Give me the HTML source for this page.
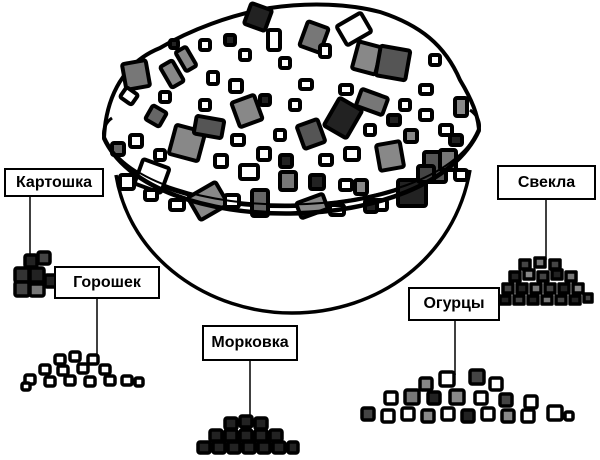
<!DOCTYPE html>
<html><head><meta charset="utf-8"><style>
html,body{margin:0;padding:0;background:#fff;width:600px;height:460px;overflow:hidden}
.l{position:absolute;background:#fff;border:2px solid #000;font:bold 16px "Liberation Sans",sans-serif;display:flex;align-items:center;justify-content:center;box-sizing:border-box}
</style></head><body>
<svg width="600" height="460" style="position:absolute;left:0;top:0" viewBox="0 0 600 460">
<g stroke="#000" stroke-linejoin="round">
<!-- bowl -->
<path d="M116,175 C130,260 210,313 292,313 C378,313 455,258 470,170" fill="#fff" stroke-width="3.5"/>
<!-- mound -->
<path d="M104,138 C106,95 125,62 160,48 C190,30 230,15 270,8 C310,2 350,4 380,12 C420,25 445,45 460,80 C472,100 478,115 479,130 C440,225 150,235 104,138 Z" fill="#fff" stroke-width="4"/>
<g stroke-width="4">
<rect x="124" y="62" width="24" height="26" rx="2" fill="#777" transform="rotate(-10 136 75)"/>
<rect x="165" y="62" width="14" height="24" rx="2" fill="#888" transform="rotate(-30 172 74)"/>
<rect x="180" y="48" width="12" height="22" rx="2" fill="#888" transform="rotate(-30 186 59)"/>
<rect x="247" y="6" width="22" height="22" rx="2" fill="#222" transform="rotate(20 258 17)"/>
<rect x="268" y="30" width="12" height="20" rx="2" fill="#fff"/>
<rect x="303" y="24" width="22" height="26" rx="2" fill="#777" transform="rotate(20 314 37)"/>
<rect x="340" y="18" width="28" height="22" rx="2" fill="#fff" transform="rotate(-30 354 29)"/>
<rect x="355" y="44" width="24" height="28" rx="2" fill="#888" transform="rotate(15 367 58)"/>
<rect x="378" y="48" width="30" height="30" rx="2" fill="#555" transform="rotate(10 393 63)"/>
<rect x="235" y="98" width="24" height="26" rx="2" fill="#888" transform="rotate(-20 247 111)"/>
<rect x="172" y="128" width="30" height="30" rx="2" fill="#888" transform="rotate(15 187 143)"/>
<rect x="195" y="118" width="28" height="18" rx="2" fill="#555" transform="rotate(10 209 127)"/>
<rect x="300" y="122" width="22" height="24" rx="2" fill="#555" transform="rotate(-20 311 134)"/>
<rect x="330" y="102" width="26" height="32" rx="2" fill="#222" transform="rotate(30 343 118)"/>
<rect x="358" y="93" width="28" height="18" rx="2" fill="#777" transform="rotate(20 372 102)"/>
<rect x="378" y="143" width="24" height="26" rx="2" fill="#888" transform="rotate(-10 390 156)"/>
<rect x="424" y="152" width="22" height="30" rx="2" fill="#555"/>
<rect x="398" y="180" width="28" height="26" rx="2" fill="#222"/>
<rect x="192" y="188" width="32" height="26" rx="2" fill="#888" transform="rotate(-30 208 201)"/>
<rect x="252" y="190" width="16" height="26" rx="2" fill="#666"/>
<rect x="298" y="198" width="28" height="16" rx="2" fill="#888" transform="rotate(-20 312 206)"/>
<rect x="138" y="163" width="28" height="26" rx="2" fill="#fff" transform="rotate(20 152 176)"/>
<rect x="148" y="108" width="16" height="16" rx="2" fill="#666" transform="rotate(30 156 116)"/>
<rect x="122" y="90" width="14" height="12" rx="2" fill="#fff" transform="rotate(35 129 96)"/>
<rect x="112" y="143" width="12" height="12" rx="2" fill="#666"/>
<rect x="455" y="98" width="12" height="18" rx="2" fill="#888"/>
<rect x="440" y="150" width="16" height="20" rx="2" fill="#777"/>
<rect x="418" y="166" width="16" height="16" rx="2" fill="#444"/>
<rect x="280" y="172" width="16" height="18" rx="2" fill="#777"/>
<rect x="240" y="165" width="18" height="14" rx="2" fill="#fff"/>
<rect x="120" y="175" width="14" height="14" rx="2" fill="#fff"/>
<rect x="225" y="195" width="14" height="12" rx="2" fill="#fff"/>
<rect x="330" y="205" width="14" height="10" rx="2" fill="#fff"/>
<rect x="355" y="180" width="12" height="14" rx="2" fill="#888"/>
<g fill="#fff">
<rect x="230" y="80" width="12" height="12" rx="2"/><rect x="208" y="72" width="10" height="12" rx="2"/><rect x="280" y="58" width="10" height="10" rx="2"/>
<rect x="300" y="80" width="12" height="9" rx="2"/><rect x="340" y="85" width="12" height="9" rx="2"/><rect x="420" y="85" width="12" height="9" rx="2"/>
<rect x="200" y="100" width="10" height="10" rx="2"/><rect x="232" y="135" width="12" height="10" rx="2"/><rect x="275" y="130" width="10" height="10" rx="2"/>
<rect x="345" y="148" width="14" height="12" rx="2"/><rect x="340" y="180" width="12" height="10" rx="2"/><rect x="170" y="200" width="14" height="10" rx="2"/>
<rect x="130" y="135" width="12" height="12" rx="2"/><rect x="440" y="125" width="12" height="10" rx="2"/><rect x="420" y="110" width="12" height="10" rx="2"/>
<rect x="320" y="45" width="10" height="12" rx="2"/><rect x="200" y="40" width="10" height="10" rx="2"/><rect x="240" y="50" width="10" height="10" rx="2"/>
<rect x="430" y="55" width="10" height="10" rx="2"/><rect x="160" y="92" width="10" height="10" rx="2"/><rect x="290" y="100" width="10" height="10" rx="2"/>
<rect x="320" y="155" width="12" height="10" rx="2"/><rect x="365" y="125" width="10" height="10" rx="2"/><rect x="400" y="100" width="10" height="10" rx="2"/>
<rect x="215" y="155" width="12" height="12" rx="2"/><rect x="258" y="148" width="12" height="12" rx="2"/><rect x="155" y="150" width="10" height="10" rx="2"/>
<rect x="455" y="170" width="12" height="10" rx="2"/><rect x="375" y="200" width="12" height="10" rx="2"/><rect x="145" y="190" width="12" height="10" rx="2"/>
</g>
<g fill="#222">
<rect x="260" y="95" width="10" height="10" rx="2"/><rect x="280" y="155" width="12" height="12" rx="2"/><rect x="310" y="175" width="14" height="14" rx="2"/>
<rect x="365" y="200" width="12" height="12" rx="2"/><rect x="450" y="135" width="12" height="10" rx="2"/><rect x="388" y="115" width="12" height="10" rx="2"/>
<rect x="405" y="130" width="12" height="12" rx="2" fill="#888"/><rect x="225" y="35" width="10" height="10" rx="2"/><rect x="170" y="40" width="8" height="8" rx="2"/>
</g>
</g>
<!-- rim band -->
<path d="M104,138 C150,240 430,240 479,130" fill="none" stroke-width="4.5"/>
<path d="M104,138 C150,228 430,228 479,130" fill="none" stroke-width="2"/>
<path d="M104,138 C102,130 106,122 112,118" fill="none" stroke-width="3"/>
<path d="M479,130 C481,122 477,115 470,110" fill="none" stroke-width="3"/>
<!-- connectors -->
<line x1="30" y1="196" x2="30" y2="255" stroke-width="1.5"/>
<line x1="97" y1="298" x2="97" y2="355" stroke-width="1.5"/>
<line x1="250" y1="361" x2="250" y2="418" stroke-width="1.5"/>
<line x1="546" y1="200" x2="546" y2="260" stroke-width="1.5"/>
<line x1="455" y1="320" x2="455" y2="375" stroke-width="1.5"/>
<!-- piles -->
<g stroke-width="3.5">
<rect x="25" y="255" width="12" height="12" rx="2" fill="#222"/><rect x="38" y="252" width="12" height="12" rx="2" fill="#444"/>
<rect x="15" y="268" width="14" height="14" rx="2" fill="#333"/><rect x="30" y="268" width="14" height="14" rx="2" fill="#222"/>
<rect x="15" y="282" width="14" height="14" rx="2" fill="#444"/><rect x="30" y="284" width="14" height="12" rx="2" fill="#777"/>
<rect x="45" y="275" width="12" height="12" rx="2" fill="#222"/>
<g fill="#fff">
<rect x="55" y="355" width="10" height="9" rx="2"/><rect x="70" y="352" width="10" height="9" rx="2"/><rect x="88" y="355" width="10" height="9" rx="2"/>
<rect x="40" y="365" width="10" height="9" rx="2"/><rect x="58" y="366" width="10" height="9" rx="2"/><rect x="78" y="364" width="10" height="9" rx="2"/><rect x="100" y="365" width="10" height="9" rx="2"/>
<rect x="25" y="375" width="10" height="9" rx="2"/><rect x="45" y="377" width="10" height="9" rx="2"/><rect x="65" y="376" width="10" height="9" rx="2"/><rect x="85" y="377" width="10" height="9" rx="2"/><rect x="105" y="376" width="10" height="9" rx="2"/><rect x="122" y="376" width="10" height="9" rx="2"/><rect x="135" y="378" width="8" height="8" rx="2"/>
<rect x="22" y="383" width="8" height="7" rx="2"/>
</g>
<g fill="#222">
<rect x="225" y="418" width="12" height="11" rx="2"/><rect x="240" y="416" width="12" height="11" rx="2"/><rect x="255" y="418" width="12" height="11" rx="2"/>
<rect x="210" y="430" width="12" height="11" rx="2"/><rect x="225" y="430" width="12" height="11" rx="2"/><rect x="240" y="430" width="12" height="11" rx="2"/><rect x="255" y="430" width="12" height="11" rx="2"/><rect x="270" y="430" width="12" height="11" rx="2"/>
<rect x="198" y="442" width="12" height="11" rx="2"/><rect x="213" y="442" width="12" height="11" rx="2"/><rect x="228" y="442" width="12" height="11" rx="2"/><rect x="243" y="442" width="12" height="11" rx="2"/><rect x="258" y="442" width="12" height="11" rx="2"/><rect x="273" y="442" width="12" height="11" rx="2"/><rect x="288" y="442" width="10" height="11" rx="2"/>
</g>
<g fill="#444">
<rect x="520" y="260" width="10" height="9"/><rect x="535" y="258" width="10" height="9" fill="#777"/><rect x="550" y="260" width="10" height="9"/>
<rect x="510" y="272" width="10" height="9" fill="#222"/><rect x="524" y="270" width="10" height="9" fill="#888"/><rect x="538" y="272" width="10" height="9"/><rect x="552" y="270" width="10" height="9" fill="#222"/><rect x="566" y="272" width="10" height="9" fill="#777"/>
<rect x="503" y="284" width="10" height="9"/><rect x="517" y="284" width="10" height="9" fill="#222"/><rect x="531" y="284" width="10" height="9" fill="#777"/><rect x="545" y="284" width="10" height="9"/><rect x="559" y="284" width="10" height="9" fill="#222"/><rect x="573" y="284" width="10" height="9" fill="#888"/>
<rect x="500" y="296" width="10" height="8" fill="#222"/><rect x="514" y="296" width="10" height="8"/><rect x="528" y="296" width="10" height="8" fill="#222"/><rect x="542" y="296" width="10" height="8" fill="#777"/><rect x="556" y="296" width="10" height="8"/><rect x="570" y="296" width="10" height="8" fill="#222"/><rect x="584" y="294" width="8" height="8"/>
</g>
<g>
<rect x="420" y="378" width="12" height="12" rx="2" fill="#888"/><rect x="440" y="372" width="14" height="14" rx="2" fill="#fff"/><rect x="470" y="370" width="14" height="14" rx="2" fill="#444"/><rect x="490" y="378" width="12" height="12" rx="2" fill="#fff"/>
<rect x="385" y="392" width="12" height="12" rx="2" fill="#fff"/><rect x="405" y="390" width="14" height="14" rx="2" fill="#777"/><rect x="428" y="392" width="12" height="12" rx="2" fill="#222"/><rect x="450" y="390" width="14" height="14" rx="2" fill="#888"/><rect x="475" y="392" width="12" height="12" rx="2" fill="#fff"/><rect x="500" y="394" width="12" height="12" rx="2" fill="#444"/><rect x="525" y="396" width="12" height="12" rx="2" fill="#fff"/>
<rect x="362" y="408" width="12" height="12" rx="2" fill="#444"/><rect x="382" y="410" width="12" height="12" rx="2" fill="#fff"/><rect x="402" y="408" width="12" height="12" rx="2" fill="#fff"/><rect x="422" y="410" width="12" height="12" rx="2" fill="#888"/><rect x="442" y="408" width="12" height="12" rx="2" fill="#fff"/><rect x="462" y="410" width="12" height="12" rx="2" fill="#222"/><rect x="482" y="408" width="12" height="12" rx="2" fill="#fff"/><rect x="502" y="410" width="12" height="12" rx="2" fill="#888"/><rect x="522" y="410" width="12" height="12" rx="2" fill="#fff"/><rect x="548" y="406" width="14" height="14" rx="2" fill="#fff"/><rect x="565" y="412" width="8" height="8" rx="2" fill="#fff"/>
</g>
</g>
</g>
</svg>
<div class="l" style="left:4px;top:168px;width:100px;height:29px">Картошка</div>
<div class="l" style="left:54px;top:266px;width:106px;height:33px">Горошек</div>
<div class="l" style="left:202px;top:325px;width:96px;height:36px">Морковка</div>
<div class="l" style="left:497px;top:165px;width:99px;height:35px">Свекла</div>
<div class="l" style="left:408px;top:287px;width:92px;height:34px">Огурцы</div>
</body></html>
